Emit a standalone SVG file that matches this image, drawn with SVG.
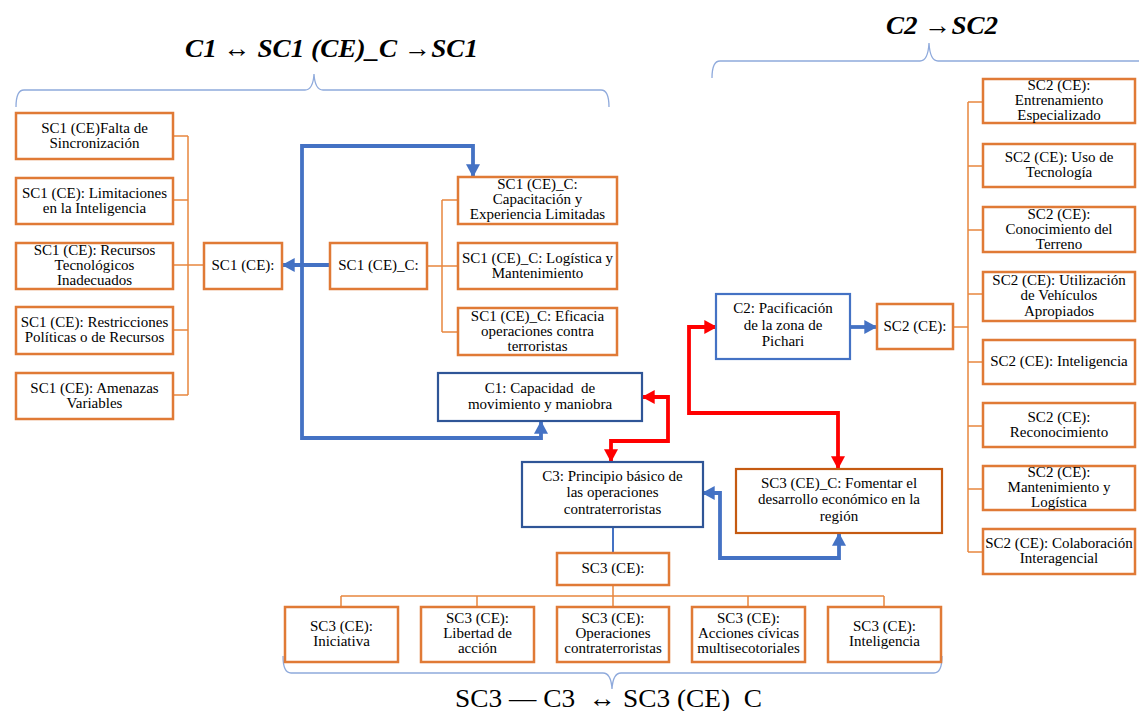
<svg xmlns="http://www.w3.org/2000/svg" width="1139" height="711" viewBox="0 0 1139 711" font-family="Liberation Serif, Times New Roman, serif">
<defs>
<style>
.t{font-size:15px;fill:#000;text-anchor:middle}
.ti{font-weight:bold;font-style:italic;font-size:26px;fill:#000}
.tb{font-size:26px;fill:#000;white-space:pre}
.ob{fill:#fff;stroke:#E07A36;stroke-width:2.5}
.ob2{fill:#fff;stroke:#C55A11;stroke-width:2.2}
.db{fill:#fff;stroke:#2F5597;stroke-width:2.2}
.lb{fill:#fff;stroke:#4472C4;stroke-width:2.2}
.ol{fill:none;stroke:#E8873F;stroke-width:1.5}
.bl{fill:none;stroke:#4472C4;stroke-width:3.8}
.rl{fill:none;stroke:#FF0000;stroke-width:3.8}
.br{fill:none;stroke:#8FAADC;stroke-width:1.3}
</style>
<marker id="ab" markerUnits="userSpaceOnUse" markerWidth="14" markerHeight="14" refX="10" refY="6" orient="auto-start-reverse" viewBox="0 0 12 12">
<path d="M0,0 L11,6 L0,12 Z" fill="#4472C4"/>
</marker>
<marker id="ar" markerUnits="userSpaceOnUse" markerWidth="14" markerHeight="14" refX="10" refY="6" orient="auto-start-reverse" viewBox="0 0 12 12">
<path d="M0,0 L11,6 L0,12 Z" fill="#FF0000"/>
</marker>
</defs>
<rect width="1139" height="711" fill="#fff"/>

<g id="titles" font-family="Liberation Serif">
<text class="ti" x="185" y="57" textLength="293" lengthAdjust="spacingAndGlyphs">C1 ↔ SC1 (CE)_C →SC1</text>
<text class="ti" x="886" y="34" textLength="112" lengthAdjust="spacingAndGlyphs">C2 →SC2</text>
<text class="tb" x="455" y="707" textLength="307" lengthAdjust="spacingAndGlyphs" xml:space="preserve">SC3 — C3  ↔ SC3 (CE)  C</text>
<path class="br" d="M16,107 Q16,90 24,90 L305,90 Q313,90 314,74 Q315,90 323,90 L601,90 Q609,90 609,107"/>
<path class="br" d="M712,78 Q712,61 720,61 L920,61 Q928,61 929,43 Q930,61 938,61 L1145,61"/>
<path class="br" d="M283,656 Q283,673 291,673 L603,673 Q611,673 612,689 Q613,673 621,673 L934,673 Q942,673 942,656"/>
</g>

<g id="connectors">
<path class="ol" d="M173,136 H188 M173,200 H188 M173,265 H188 M173,330 H188 M173,395 H188 M188,136 V395 M188,265 H204"/>
<path class="ol" d="M427,266 H442 M442,200 V332 M442,200 H458 M442,266 H458 M442,332 H458"/>
<path class="ol" d="M953,327 H968 M968,102 V552 M968,102 H983 M968,166 H983 M968,230 H983 M968,294 H983 M968,362 H983 M968,426 H983 M968,489 H983 M968,552 H983"/>
<path class="ol" d="M613,585 V596 M341,596 H884 M341,596 V607 M477,596 V607 M613,596 V607 M748,596 V607 M884,596 V607"/>
<path d="M613,527 V553" fill="none" stroke="#4472C4" stroke-width="2"/>
<path class="bl" d="M330,265 L283,265" marker-end="url(#ab)"/>
<path class="bl" d="M473,176 L473,146 L302,146 L302,438 L541,438 L541,422" marker-start="url(#ab)" marker-end="url(#ab)"/>
<path class="bl" d="M703,493 L720,493 L720,558 L839,558 L839,534" marker-start="url(#ab)" marker-end="url(#ab)"/>
<path class="bl" d="M850,327 L876,327" marker-end="url(#ab)"/>
<path class="rl" d="M643,397 L668,397 L668,441 L611,441 L611,461" marker-start="url(#ar)" marker-end="url(#ar)"/>
<path class="rl" d="M716,327 L689,327 L689,413 L838,413 L838,468" marker-start="url(#ar)" marker-end="url(#ar)"/>
</g>

<g id="nodes" font-family="Liberation Serif">
<g id="sc1-1"><rect class="ob" x="16" y="113" width="157" height="46"/><text class="t" x="94.5" y="132.5">SC1 (CE)Falta de</text><text class="t" x="94.5" y="147.5">Sincronización</text></g>
<g id="sc1-2"><rect class="ob" x="16" y="178" width="157" height="46"/><text class="t" x="94.5" y="197.5">SC1 (CE): Limitaciones</text><text class="t" x="94.5" y="212.5">en la Inteligencia</text></g>
<g id="sc1-3"><rect class="ob" x="16" y="243" width="157" height="46"/><text class="t" x="94.5" y="255">SC1 (CE): Recursos</text><text class="t" x="94.5" y="270">Tecnológicos</text><text class="t" x="94.5" y="285">Inadecuados</text></g>
<g id="sc1-4"><rect class="ob" x="16" y="307" width="157" height="47"/><text class="t" x="94.5" y="327">SC1 (CE): Restricciones</text><text class="t" x="94.5" y="342">Políticas o de Recursos</text></g>
<g id="sc1-5"><rect class="ob" x="16" y="373" width="157" height="46"/><text class="t" x="94.5" y="392.5">SC1 (CE): Amenazas</text><text class="t" x="94.5" y="407.5">Variables</text></g>
<g id="sc1"><rect class="ob" x="204" y="243" width="78" height="46"/><text class="t" x="243" y="270">SC1 (CE):</text></g>
<g id="sc1c"><rect class="ob" x="330" y="243" width="97" height="46"/><text class="t" x="378.5" y="270">SC1 (CE)_C:</text></g>
<g id="sc1c-1"><rect class="ob" x="458" y="177" width="159" height="47"/><text class="t" x="537.5" y="189">SC1 (CE)_C:</text><text class="t" x="537.5" y="204">Capacitación y</text><text class="t" x="537.5" y="219">Experiencia Limitadas</text></g>
<g id="sc1c-2"><rect class="ob" x="458" y="243" width="159" height="46"/><text class="t" x="537.5" y="262.5">SC1 (CE)_C: Logística y</text><text class="t" x="537.5" y="277.5">Mantenimiento</text></g>
<g id="sc1c-3"><rect class="ob" x="458" y="308" width="159" height="47"/><text class="t" x="537.5" y="320.5">SC1 (CE)_C: Eficacia</text><text class="t" x="537.5" y="335.5">operaciones contra</text><text class="t" x="537.5" y="350.5">terroristas</text></g>
<g id="c1"><rect class="db" x="438" y="373" width="204" height="48"/><text class="t" x="540" y="392.5" xml:space="preserve">C1: Capacidad  de</text><text class="t" x="540" y="409">movimiento y maniobra</text></g>
<g id="c3"><rect class="db" x="522" y="462" width="181" height="65"/><text class="t" x="612.5" y="480.5">C3: Principio básico de</text><text class="t" x="612.5" y="497">las operaciones</text><text class="t" x="612.5" y="513.5">contraterroristas</text></g>
<g id="sc3c"><rect class="ob2" x="736" y="469" width="206" height="64"/><text class="t" x="839" y="487.5">SC3 (CE)_C: Fomentar el</text><text class="t" x="839" y="504">desarrollo económico en la</text><text class="t" x="839" y="520.5">región</text></g>
<g id="c2"><rect class="lb" x="716" y="294" width="134" height="65"/><text class="t" x="783" y="313">C2: Pacificación</text><text class="t" x="783" y="329.5">de la zona de</text><text class="t" x="783" y="346">Pichari</text></g>
<g id="sc2"><rect class="ob" x="877" y="304" width="76" height="45"/><text class="t" x="915" y="331">SC2 (CE):</text></g>

<g id="sc2-1"><rect class="ob" x="983" y="79" width="152" height="44"/><text class="t" x="1059" y="90">SC2 (CE):</text><text class="t" x="1059" y="105">Entrenamiento</text><text class="t" x="1059" y="120">Especializado</text></g>
<g id="sc2-2"><rect class="ob" x="983" y="144" width="152" height="43"/><text class="t" x="1059" y="162">SC2 (CE): Uso de</text><text class="t" x="1059" y="177">Tecnología</text></g>
<g id="sc2-3"><rect class="ob" x="983" y="207" width="152" height="45"/><text class="t" x="1059" y="218.5">SC2 (CE):</text><text class="t" x="1059" y="233.5">Conocimiento del</text><text class="t" x="1059" y="248.5">Terreno</text></g>
<g id="sc2-4"><rect class="ob" x="983" y="272" width="152" height="49"/><text class="t" x="1059" y="284.5">SC2 (CE): Utilización</text><text class="t" x="1059" y="300">de Vehículos</text><text class="t" x="1059" y="315.5">Apropiados</text></g>
<g id="sc2-5"><rect class="ob" x="983" y="340" width="152" height="44"/><text class="t" x="1059" y="366">SC2 (CE): Inteligencia</text></g>
<g id="sc2-6"><rect class="ob" x="983" y="403" width="152" height="44"/><text class="t" x="1059" y="421.5">SC2 (CE):</text><text class="t" x="1059" y="436.5">Reconocimiento</text></g>
<g id="sc2-7"><rect class="ob" x="983" y="466" width="152" height="44"/><text class="t" x="1059" y="477">SC2 (CE):</text><text class="t" x="1059" y="492">Mantenimiento y</text><text class="t" x="1059" y="507">Logística</text></g>
<g id="sc2-8"><rect class="ob" x="983" y="529" width="152" height="45"/><text class="t" x="1059" y="548">SC2 (CE): Colaboración</text><text class="t" x="1059" y="563">Interagencial</text></g>

<g id="sc3"><rect class="ob" x="557" y="553" width="112" height="32"/><text class="t" x="613" y="573">SC3 (CE):</text></g>
<g id="sc3-1"><rect class="ob" x="285" y="607" width="113" height="55"/><text class="t" x="341.5" y="630.5">SC3 (CE):</text><text class="t" x="341.5" y="645.5">Iniciativa</text></g>
<g id="sc3-2"><rect class="ob" x="421" y="607" width="113" height="55"/><text class="t" x="477.5" y="623">SC3 (CE):</text><text class="t" x="477.5" y="638">Libertad de</text><text class="t" x="477.5" y="653">acción</text></g>
<g id="sc3-3"><rect class="ob" x="557" y="607" width="112" height="55"/><text class="t" x="613" y="623">SC3 (CE):</text><text class="t" x="613" y="638">Operaciones</text><text class="t" x="613" y="653">contraterroristas</text></g>
<g id="sc3-4"><rect class="ob" x="692" y="607" width="113" height="55"/><text class="t" x="748.5" y="623">SC3 (CE):</text><text class="t" x="748.5" y="638">Acciones cívicas</text><text class="t" x="748.5" y="653">multisecotoriales</text></g>
<g id="sc3-5"><rect class="ob" x="828" y="607" width="113" height="55"/><text class="t" x="884.5" y="630.5">SC3 (CE):</text><text class="t" x="884.5" y="645.5">Inteligencia</text></g>
</g>
</svg>
